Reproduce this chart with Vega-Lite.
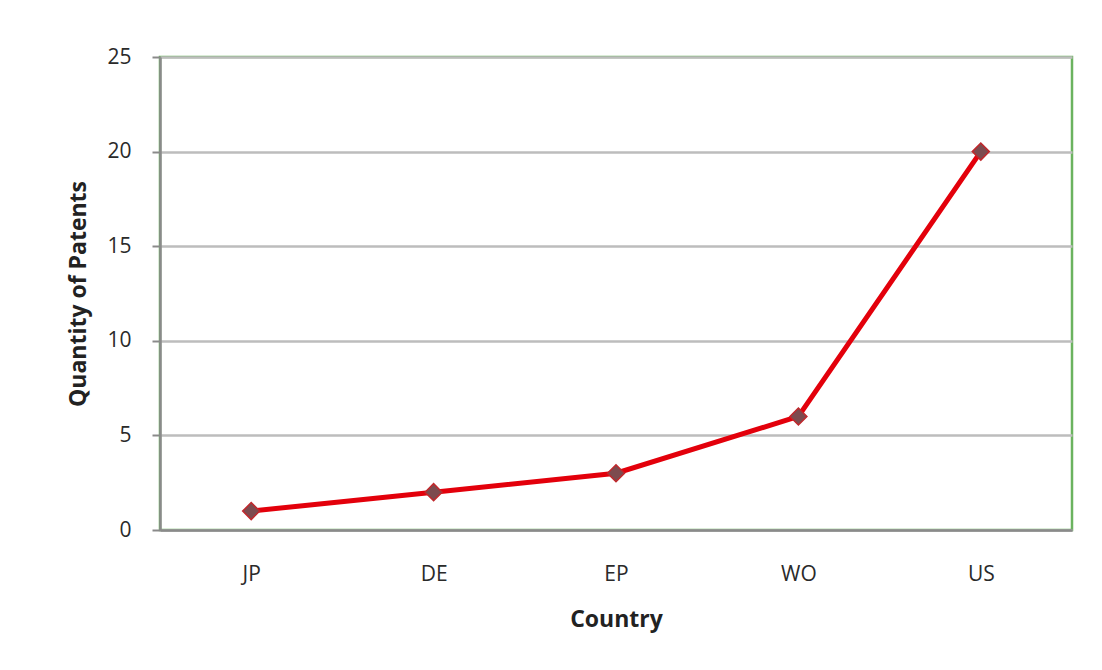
{
  "$schema": "https://vega.github.io/schema/vega-lite/v6.json",
  "autosize": "none",
  "width": 912,
  "height": 473,
  "padding": {"left": 160, "top": 57, "right": 30, "bottom": 140},
  "background": "white",
  "config": {
    "view": {"stroke": "#6bb35f", "strokeWidth": 2.5},
    "font": "Open Sans"
  },
  "data": {
    "values": [
      {"country": "JP", "patents": 1},
      {"country": "DE", "patents": 2},
      {"country": "EP", "patents": 3},
      {"country": "WO", "patents": 6},
      {"country": "US", "patents": 20}
    ]
  },
  "encoding": {
    "x": {
      "field": "country", "type": "ordinal", "sort": null,
      "scale": {"type": "point", "padding": 0.5},
      "axis": {
        "title": "Country", "labelAngle": 0, "ticks": false,
        "labelFontSize": 21, "labelColor": "#2a2a2a", "labelPadding": 33,
        "titleFontSize": 23, "titleFontWeight": "bold", "titleColor": "#222", "titlePadding": 24,
        "domainColor": "#8a8a8a", "domainWidth": 2.5, "grid": false
      }
    },
    "y": {
      "field": "patents", "type": "quantitative",
      "scale": {"domain": [0, 25]},
      "axis": {
        "title": "Quantity of Patents", "values": [0, 5, 10, 15, 20, 25],
        "tickSize": 8, "tickColor": "#8a8a8a", "tickWidth": 2,
        "labelFontSize": 21, "labelColor": "#2a2a2a", "labelPadding": 21,
        "titleFontSize": 23, "titleFontWeight": "bold", "titleColor": "#222", "titlePadding": 16,
        "domainColor": "#8a8a8a", "domainWidth": 2.5,
        "gridColor": "#bdbdbd", "gridWidth": 2.5
      }
    }
  },
  "layer": [
    {"mark": {"type": "line", "color": "#e3000b", "strokeWidth": 5}},
    {"mark": {"type": "point", "shape": "diamond", "filled": true, "fill": "#7d4b4f", "stroke": "#c0282c", "strokeWidth": 1.5, "size": 290, "opacity": 1}}
  ]
}
